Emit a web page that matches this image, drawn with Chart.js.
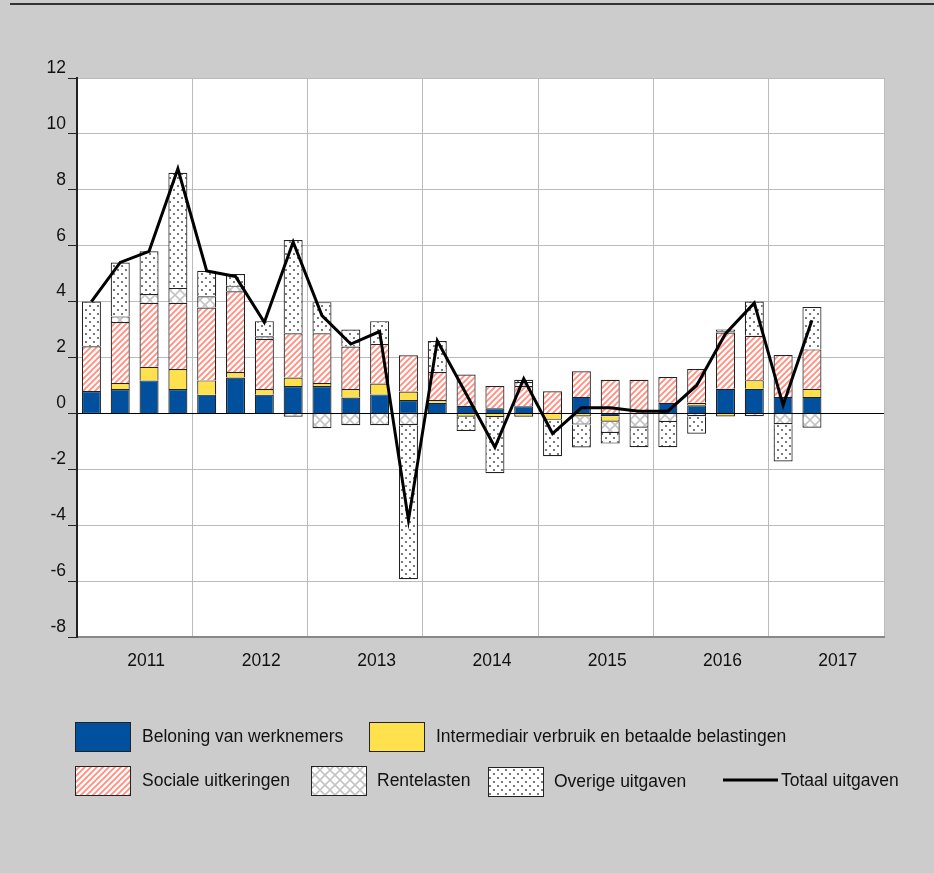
<!DOCTYPE html>
<html>
<head>
<meta charset="utf-8">
<script src="https://cdn.jsdelivr.net/npm/chart.js@4.4.1/dist/chart.umd.min.js"></script>
<style>
    html, body { margin: 0; padding: 0; background: #cccccc; }
    #wrap { width: 934px; height: 873px; }
</style>
</head>
<body>
<div id="wrap"><canvas id="uitgavenChart" width="934" height="873"></canvas></div>
<script>
// quarters 2011-2017 (data runs to 2017 Q2)
const quarters = [
    '2011K1', '2011K2', '2011K3', '2011K4', '2012K1', '2012K2', '2012K3', '2012K4',
    '2013K1', '2013K2', '2013K3', '2013K4', '2014K1', '2014K2', '2014K3', '2014K4',
    '2015K1', '2015K2', '2015K3', '2015K4', '2016K1', '2016K2', '2016K3', '2016K4',
    '2017K1', '2017K2', '2017K3', '2017K4'
];
const yearLabels = ['2011', '2012', '2013', '2014', '2015', '2016', '2017'];

const seriesNames = [
    'Beloning van werknemers',
    'Intermediair verbruik en betaalde belastingen',
    'Sociale uitkeringen',
    'Rentelasten',
    'Overige uitgaven',
    'Totaal uitgaven'
];

const beloning = [0.8, 0.87, 1.18, 0.87, 0.67, 1.28, 0.67, 0.98, 0.98, 0.57, 0.68, 0.48, 0.38,
    0.27, 0.18, 0.26, 0.0, 0.59, -0.1, 0.0, 0.38, 0.29, 0.88, 0.88, 0.59, 0.59];
const intermediair = [0.0, 0.22, 0.49, 0.72, 0.51, 0.2, 0.2, 0.3, 0.11, 0.3, 0.39, 0.3, 0.1,
    -0.12, -0.14, -0.12, -0.23, -0.11, -0.2, 0.0, 0.0, 0.09, -0.11, 0.31, 0.0, 0.29];
const sociale = [1.6, 2.18, 2.29, 2.37, 2.61, 2.89, 1.79, 1.59, 1.78, 1.52, 1.41, 1.3, 1.0,
    1.12, 0.8, 0.72, 0.79, 0.92, 1.2, 1.2, 0.92, 1.21, 2.01, 1.59, 1.5, 1.41];
const rentelasten = [0.0, 0.2, 0.31, 0.53, 0.4, 0.2, 0.1, -0.12, -0.53, -0.42, -0.42, -0.42, 0.0,
    0.0, 0.0, 0.14, 0.0, -0.29, -0.4, -0.51, -0.31, -0.1, 0.05, -0.1, -0.39, -0.51];
const overige = [1.6, 1.93, 1.53, 4.12, 0.91, 0.42, 0.54, 3.33, 1.11, 0.61, 0.82, -5.51, 1.11,
    -0.51, -2.0, 0.08, -1.3, -0.82, -0.38, -0.7, -0.9, -0.63, 0.06, 1.22, -1.33, 1.52];
const totaal = [4.0, 5.4, 5.8, 8.75, 5.1, 4.9, 3.26, 6.13, 3.5, 2.48, 2.93, -3.82, 2.6,
    0.7, -1.21, 1.24, -0.72, 0.2, 0.2, 0.08, 0.08, 1.0, 2.85, 3.95, 0.29, 3.33];

const FONT = '"Liberation Sans", Arial, sans-serif';

document.addEventListener("DOMContentLoaded", () => {
    const canvas = document.getElementById('uitgavenChart');
    const ctx = canvas.getContext('2d');

    // small tiles for the hatched fills
    function makePattern(size, draw) {
        const c = document.createElement('canvas');
        c.width = size; c.height = size;
        const p = c.getContext('2d');
        p.fillStyle = '#ffffff';
        p.fillRect(0, 0, size, size);
        draw(p, size);
        return ctx.createPattern(c, 'repeat');
    }

    const blue = '#00509e';
    const yellow = '#ffe14d';
    const stripes = makePattern(6, (p, s) => {
        p.strokeStyle = '#ff8e7e';
        p.lineWidth = 1.8;
        p.beginPath();
        p.moveTo(0, s); p.lineTo(s, 0);
        p.moveTo(-s / 2, s / 2); p.lineTo(s / 2, -s / 2);
        p.moveTo(s / 2, s * 1.5); p.lineTo(s * 1.5, s / 2);
        p.stroke();
    });
    const crosses = makePattern(10, (p, s) => {
        p.strokeStyle = '#c4c4c4';
        p.lineWidth = 1.6;
        p.beginPath();
        p.moveTo(0, 0); p.lineTo(s, s);
        p.moveTo(0, s); p.lineTo(s, 0);
        p.stroke();
    });
    const dots = makePattern(8, (p) => {
        p.fillStyle = '#5a5a5a';
        [[2, 2], [6, 6]].forEach(([x, y]) => {
            p.beginPath();
            p.arc(x, y, 1.1, 0, Math.PI * 2);
            p.fill();
        });
    });

    // grey page, white plot area, rule at the top
    const backdrop = {
        id: 'backdrop',
        beforeDraw(chart) {
            const c = chart.ctx, a = chart.chartArea;
            c.save();
            c.fillStyle = '#cccccc';
            c.fillRect(0, 0, chart.width, chart.height);
            c.fillStyle = '#ffffff';
            c.fillRect(a.left, a.top, a.right - a.left, a.bottom - a.top);
            c.strokeStyle = '#333333';
            c.lineWidth = 2;
            c.beginPath();
            c.moveTo(10, 4); c.lineTo(chart.width, 4);
            c.stroke();
            c.restore();
        }
    };

    // legend in two rows like the original
    const legendBoxes = [
        { fill: blue, x: 75, y: 722, tx: 142 },
        { fill: yellow, x: 369, y: 722, tx: 436 },
        { fill: stripes, x: 75, y: 766, tx: 142 },
        { fill: crosses, x: 311, y: 766, tx: 377 },
        { fill: dots, x: 488, y: 767, tx: 554 },
        { line: true, x: 723, y: 766, tx: 781 }
    ];
    const customLegend = {
        id: 'customLegend',
        afterDraw(chart) {
            const c = chart.ctx;
            c.save();
            c.font = '17.5px ' + FONT;
            c.textBaseline = 'middle';
            legendBoxes.forEach((b, i) => {
                if (b.line) {
                    c.strokeStyle = '#000';
                    c.lineWidth = 3;
                    c.beginPath();
                    c.moveTo(b.x, b.y + 14); c.lineTo(b.x + 55, b.y + 14);
                    c.stroke();
                } else {
                    c.fillStyle = b.fill;
                    c.fillRect(b.x, b.y, 55, 29);
                    c.strokeStyle = '#222';
                    c.lineWidth = 1;
                    c.strokeRect(b.x + 0.5, b.y + 0.5, 55, 29);
                }
                c.fillStyle = '#111';
                c.fillText(seriesNames[i], b.tx, b.y + 15);
            });
            c.restore();
        }
    };

    const barStyle = { borderColor: '#222222', borderWidth: 1.2, stack: 'uitgaven', order: 1 };

    new Chart(ctx, {
        type: 'bar',
        data: {
            labels: quarters,
            datasets: [
                { label: seriesNames[0], data: beloning, backgroundColor: blue, ...barStyle },
                { label: seriesNames[1], data: intermediair, backgroundColor: yellow, ...barStyle },
                { label: seriesNames[2], data: sociale, backgroundColor: stripes, ...barStyle },
                { label: seriesNames[3], data: rentelasten, backgroundColor: crosses, ...barStyle },
                { label: seriesNames[4], data: overige, backgroundColor: dots, ...barStyle },
                {
                    type: 'line',
                    label: seriesNames[5],
                    data: totaal,
                    borderColor: '#000000',
                    borderWidth: 3,
                    pointRadius: 0,
                    tension: 0,
                    stack: 'totaal',
                    order: 0
                }
            ]
        },
        options: {
            responsive: false,
            animation: false,
            layout: { padding: { left: 0, right: 50, top: 78, bottom: 196 } },
            datasets: { bar: { categoryPercentage: 1, barPercentage: 0.66 } },
            plugins: {
                legend: { display: false },
                tooltip: { enabled: false }
            },
            scales: {
                x: {
                    stacked: true,
                    grid: {
                        offset: true,
                        drawTicks: false,
                        color: c => (c.type === 'scale' || c.index % 4 === 0) ? '#bbbbbb' : 'rgba(0,0,0,0)'
                    },
                    border: { color: '#888888', width: 2 },
                    ticks: {
                        autoSkip: false,
                        maxRotation: 0,
                        labelOffset: -3,
                        padding: 14,
                        color: '#111',
                        font: { size: 17.5, family: FONT },
                        callback: (v, i) => i % 4 === 2 ? yearLabels[Math.floor(i / 4)] : ''
                    },
                    afterFit: s => { s.height = 40; }
                },
                y: {
                    stacked: true,
                    min: -8,
                    max: 12,
                    grid: {
                        color: c => (c.tick && c.tick.value === 0) ? '#000000' : '#bbbbbb',
                        tickLength: 9,
                        tickColor: '#222222'
                    },
                    border: { color: '#222222', width: 2 },
                    ticks: {
                        stepSize: 2,
                        labelOffset: -10,
                        padding: 2,
                        color: '#111',
                        font: { size: 17.5, family: FONT }
                    },
                    afterFit: s => { s.width = 77; }
                }
            }
        },
        plugins: [backdrop, customLegend]
    });
});
</script>
</body>
</html>
